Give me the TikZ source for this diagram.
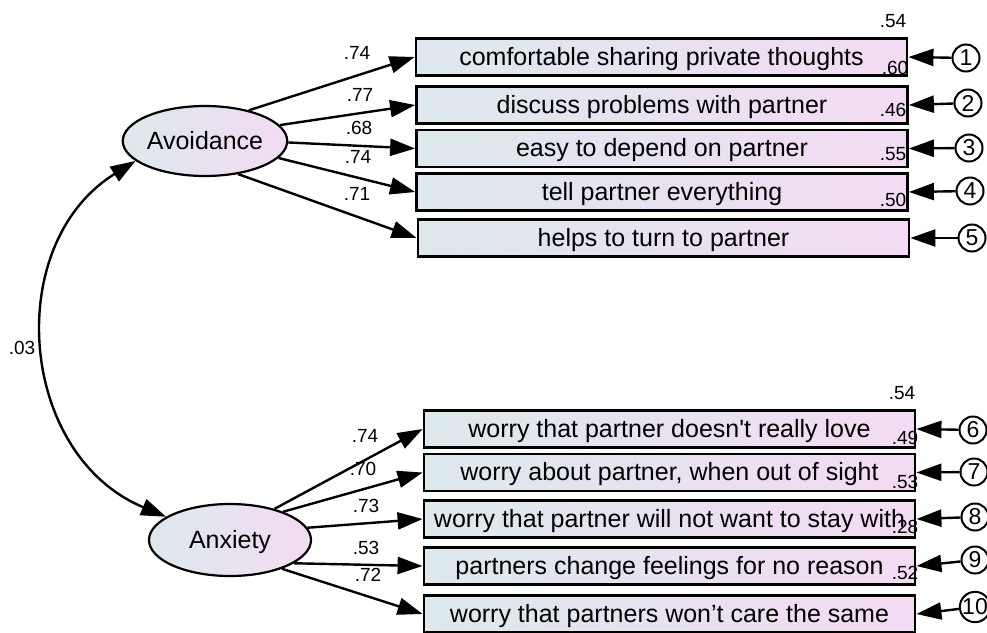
\documentclass[tikz,border=0pt]{standalone}
\usepackage{fontspec}
\setmainfont{Liberation Sans}
\usetikzlibrary{arrows.meta,shapes.geometric}

\definecolor{shadeleft}{RGB}{221,233,236}
\definecolor{shaderight}{RGB}{243,219,243}

\begin{document}
\begin{tikzpicture}[x=1pt, y=-1pt,
    item/.style={rectangle, draw, line width=2.8pt, left color=shadeleft, right color=shaderight, minimum width=491pt, minimum height=37pt, inner sep=0pt, text height=17pt, text depth=1pt, font=\fontsize{25}{26}\selectfont},
    factor/.style={ellipse, draw, line width=2.2pt, left color=shadeleft, right color=shaderight, inner sep=0pt, text height=17pt, text depth=1pt, font=\fontsize{25}{26}\selectfont},
    err/.style={circle, draw, line width=2pt, fill=white, minimum size=27pt, inner sep=0pt, font=\fontsize{23}{23}\selectfont},
    coef/.style={inner sep=0pt, font=\fontsize{19}{19}\selectfont},
    load/.style={line width=2.4pt, -{Triangle[length=25pt, width=17pt]}}]

    \useasboundingbox (0,0) rectangle (987,632);

    \node[factor, minimum width=152pt, minimum height=70pt] (avoid) at (205,141) {Avoidance};
    \node[factor, minimum width=162pt, minimum height=72pt] (anx) at (230,540) {Anxiety};

    \node[item] (item1) at (661.5,57) {comfortable sharing private thoughts};
    \node[item] (item2) at (662,105) {discuss problems with partner};
    \node[item] (item3) at (662,148.5) {easy to depend on partner};
    \node[item] (item4) at (662,192) {tell partner everything};
    \node[item] (item5) at (663.5,238) {helps to turn to partner};

    \node[item] (item6) at (669.5,429) {worry that partner doesn\textquotesingle t really love};
    \node[item] (item7) at (669.5,472.5) {worry about partner, when out of sight};
    \node[item] (item8) at (669.5,519) {worry that partner will not want to stay with};
    \node[item] (item9) at (669.5,566) {partners change feelings for no reason};
    \node[item] (item10) at (669.5,614) {worry that partners won’t care the same};

    \node[err] (e1) at (966,58) {1};
    \node[err] (e2) at (968,103) {2};
    \node[err] (e3) at (969,148) {3};
    \node[err] (e4) at (970,191) {4};
    \node[err] (e5) at (972,238) {5};
    \node[err] (e6) at (973,430) {6};
    \node[err] (e7) at (974,472) {7};
    \node[err] (e8) at (975,517) {8};
    \node[err] (e9) at (975,560) {9};
    \node[err] (e10) at (975,607) {10};

    \draw[load] (avoid.35.8) -- (item1.west);
    \draw[load] (avoid.12.5) -- (item2.west);
    \draw[load] (avoid.-1.5) -- (item3.west);
    \draw[load] (avoid.-13.7) -- (item4.west);
    \draw[load] (avoid.-45) -- (item5.west);

    \draw[load] (anx.35.8) -- (item6.west);
    \draw[load] (anx.28.7) -- (item7.west);
    \draw[load] (anx.9.5) -- (item8.west);
    \draw[load] (anx.-20.9) -- (item9.west);
    \draw[load] (anx.-29.1) -- (item10.west);

    \draw[load] (e1) -- (item1.east);
    \draw[load] (e2) -- (item2.east);
    \draw[load] (e3) -- (item3.east);
    \draw[load] (e4) -- (item4.east);
    \draw[load] (e5) -- (item5.east);
    \draw[load] (e6) -- (item6.east);
    \draw[load] (e7) -- (item7.east);
    \draw[load] (e8) -- (item8.east);
    \draw[load] (e9) -- (item9.east);
    \draw[load] (e10) -- (item10.east);

    % covariance
    \draw[line width=2.4pt, {Triangle[length=25pt, width=17pt]}-{Triangle[length=25pt, width=17pt]}]
        (avoid.196) .. controls (2,244) and (18,455) .. (anx.160);
    \node[coef] (cov) at (22,348) {.03};

    \node[coef] at (357,53) {.74};
    \node[coef] at (360,95) {.77};
    \node[coef] at (359,128) {.68};
    \node[coef] at (358,157) {.74};
    \node[coef] at (357,194) {.71};

    \node[coef] at (365,436) {.74};
    \node[coef] at (363,469) {.70};
    \node[coef] at (366,506) {.73};
    \node[coef] at (366,548) {.53};
    \node[coef] at (368,575) {.72};

    \node[coef] at (893,21) {.54};
    \node[coef] at (895,68) {.60};
    \node[coef] at (893,110) {.46};
    \node[coef] at (893,154) {.55};
    \node[coef] at (893,200) {.50};

    \node[coef] at (902,393) {.54};
    \node[coef] at (905,438) {.49};
    \node[coef] at (905,482) {.53};
    \node[coef] at (905,527) {.28};
    \node[coef] at (905,573) {.52};

\end{tikzpicture}
\end{document}
